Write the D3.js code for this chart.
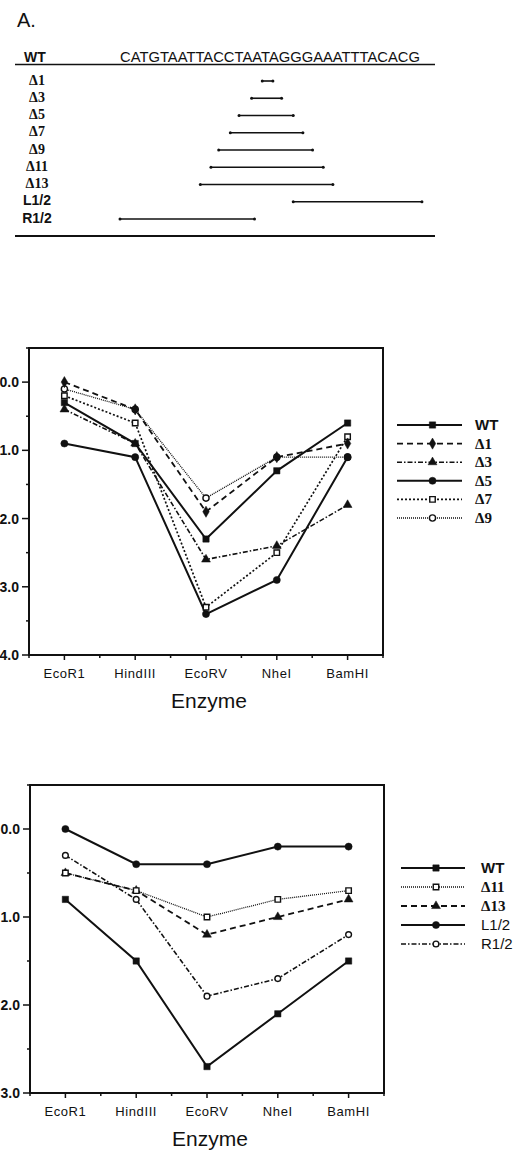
<!DOCTYPE html>
<html>
<head>
<meta charset="utf-8">
<script src="https://cdn.jsdelivr.net/npm/d3@7"></script>
<style>
body { margin: 0; background: #fff; }
text { font-family: "Liberation Sans", Arial, sans-serif; fill: #111; }
.serif { font-family: "Liberation Serif", "Times New Roman", serif; }
</style>
</head>
<body>
<script>
// panel A: deletion map
var seqText = 'CATGTAATTACCTAATAGGGAAATTTACACG';
var mutants = ['Δ1', 'Δ3', 'Δ5', 'Δ7', 'Δ9', 'Δ11', 'Δ13', 'L1/2', 'R1/2'];
var delStart = [14.7, 13.6, 12.3, 11.4, 10.2, 9.4, 8.3, 17.9, 0.0];
var delEnd = [15.8, 16.7, 17.9, 18.9, 19.9, 21.0, 22.0, 31.2, 13.9];

// graphs
var enzymes = ['EcoR1', 'HindIII', 'EcoRV', 'NheI', 'BamHI'];
var yTicks1 = [0, 1, 2, 3, 4];
var yTicks2 = [0, 1, 2, 3];

var names1 = ['WT', 'Δ1', 'Δ3', 'Δ5', 'Δ7', 'Δ9'];
var wt1 = [0.3, 0.9, 2.3, 1.3, 0.6];
var d1 = [0.0, 0.4, 1.9, 1.1, 0.9];
var d3v = [0.4, 0.9, 2.6, 2.4, 1.8];
var d5 = [0.9, 1.1, 3.4, 2.9, 1.1];
var d7 = [0.2, 0.6, 3.3, 2.5, 0.8];
var d9 = [0.1, 0.4, 1.7, 1.1, 1.1];

var names2 = ['WT', 'Δ11', 'Δ13', 'L1/2', 'R1/2'];
var wt2 = [0.8, 1.5, 2.7, 2.1, 1.5];
var d11 = [0.5, 0.7, 1.0, 0.8, 0.7];
var d13 = [0.5, 0.7, 1.2, 1.0, 0.8];
var l12 = [0.0, 0.4, 0.4, 0.2, 0.2];
var r12 = [0.3, 0.8, 1.9, 1.7, 1.2];

// line styles
var SOLID = { dash: null, width: 2 };
var DASH = { dash: '6,4', width: 1.8 };
var DASHDOT = { dash: '5,2,1.5,2', width: 1.6 };
var DOT = { dash: '2,2', width: 1.7 };
var FINE = { dash: '1,1', width: 1.3 };

var styles1 = [
    { line: SOLID, sym: d3.symbolSquare, size: 40, open: false },
    { line: DASH, sym: d3.symbolDiamond, size: 36, open: false },
    { line: DASHDOT, sym: d3.symbolTriangle, size: 34, open: false },
    { line: SOLID, sym: d3.symbolCircle, size: 40, open: false },
    { line: DOT, sym: d3.symbolSquare, size: 30, open: true },
    { line: FINE, sym: d3.symbolCircle, size: 30, open: true }
];
var styles2 = [
    { line: SOLID, sym: d3.symbolSquare, size: 40, open: false },
    { line: FINE, sym: d3.symbolSquare, size: 30, open: true },
    { line: DASH, sym: d3.symbolTriangle, size: 34, open: false },
    { line: SOLID, sym: d3.symbolCircle, size: 40, open: false },
    { line: DASHDOT, sym: d3.symbolCircle, size: 26, open: true }
];

var W = 519, H = 1153;
var svg = d3.select('body').append('svg')
    .attr('width', W)
    .attr('height', H)
    .attr('viewBox', '0 0 ' + W + ' ' + H);

drawMap();
drawChart({ left: 29, right: 383, top: 348, bottom: 655, domain: [-0.5, 4], ticks: yTicks1,
    legendX: [397, 462, 475], legendY: 425, legendStep: 18.6 },
    names1, [wt1, d1, d3v, d5, d7, d9], styles1);
drawChart({ left: 30, right: 384, top: 785, bottom: 1093, domain: [-0.5, 3], ticks: yTicks2,
    legendX: [401, 465, 481], legendY: 868, legendStep: 19 },
    names2, [wt2, d11, d13, l12, r12], styles2);

function labelClass(name) {
    return name.charAt(0) === 'Δ' ? 'serif' : null;
}

function drawMap() {
    var g = svg.append('g');
    var x = d3.scaleLinear().domain([0, seqText.length]).range([120, 420]);
    var rowY = d3.scalePoint().domain(mutants).range([80, 218]);

    g.append('text').attr('x', 17).attr('y', 27)
        .style('font-size', '20px').text('A.');

    g.append('text').attr('x', 35).attr('y', 62)
        .attr('text-anchor', 'middle')
        .style('font-size', '14px').style('font-weight', 'bold')
        .text('WT');
    g.append('text').attr('x', x(0)).attr('y', 62)
        .attr('textLength', x(seqText.length) - x(0))
        .attr('lengthAdjust', 'spacingAndGlyphs')
        .style('font-size', '15px')
        .text(seqText);

    g.append('line').attr('x1', 15).attr('x2', 435).attr('y1', 64.5).attr('y2', 64.5)
        .attr('stroke', '#111').attr('stroke-width', 1.5);
    g.append('line').attr('x1', 15).attr('x2', 435).attr('y1', 236).attr('y2', 236)
        .attr('stroke', '#111').attr('stroke-width', 1.8);

    var rows = g.selectAll('.row')
        .data(mutants)
        .enter()
        .append('g')
        .attr('class', 'row');

    rows.append('text')
        .attr('x', 37)
        .attr('y', function (d) { return rowY(d) + 4.5; })
        .attr('text-anchor', 'middle')
        .attr('class', labelClass)
        .style('font-size', '14px')
        .style('font-weight', 'bold')
        .text(function (d) { return d; });

    rows.append('line')
        .attr('x1', function (d, i) { return x(delStart[i]); })
        .attr('x2', function (d, i) { return x(delEnd[i]); })
        .attr('y1', function (d) { return rowY(d) + 1; })
        .attr('y2', function (d) { return rowY(d) + 1; })
        .attr('stroke', '#111')
        .attr('stroke-width', 1.6);

    rows.selectAll('circle')
        .data(function (d, i) { return [[d, delStart[i]], [d, delEnd[i]]]; })
        .enter()
        .append('circle')
        .attr('cx', function (p) { return x(p[1]); })
        .attr('cy', function (p) { return rowY(p[0]) + 1; })
        .attr('r', 1.5)
        .attr('fill', '#111');
}

function drawChart(cfg, names, series, styles) {
    var g = svg.append('g');
    var x = d3.scalePoint().domain(enzymes).range([cfg.left, cfg.right]).padding(0.5);
    var y = d3.scaleLinear().domain(cfg.domain).range([cfg.top, cfg.bottom]);
    var step = x.step();

    // frame
    g.append('rect')
        .attr('x', cfg.left).attr('y', cfg.top)
        .attr('width', cfg.right - cfg.left)
        .attr('height', cfg.bottom - cfg.top)
        .attr('fill', 'none')
        .attr('stroke', '#111')
        .attr('stroke-width', 2);

    // y ticks
    var half = d3.range(cfg.domain[0], cfg.domain[1] + 0.01, 0.5);
    g.selectAll('.ytick')
        .data(half)
        .enter()
        .append('line')
        .attr('x1', function (d) { return cfg.left - (d % 1 === 0 ? 7 : 3); })
        .attr('x2', cfg.left)
        .attr('y1', function (d) { return y(d); })
        .attr('y2', function (d) { return y(d); })
        .attr('stroke', '#111')
        .attr('stroke-width', 1.5);

    g.selectAll('.ylab')
        .data(cfg.ticks)
        .enter()
        .append('text')
        .attr('x', cfg.left - 10)
        .attr('y', function (d) { return y(d) + 5; })
        .attr('text-anchor', 'end')
        .style('font-size', '14px')
        .style('font-weight', 'bold')
        .text(function (d) { return d3.format('.1f')(d); });

    // x ticks: majors at enzymes, minors in between
    var minors = d3.range(0, enzymes.length + 1).map(function (i) { return cfg.left + i * step; });
    g.selectAll('.xminor')
        .data(minors)
        .enter()
        .append('line')
        .attr('x1', function (d) { return d; })
        .attr('x2', function (d) { return d; })
        .attr('y1', cfg.bottom)
        .attr('y2', cfg.bottom + 3)
        .attr('stroke', '#111')
        .attr('stroke-width', 1.5);

    g.selectAll('.xmajor')
        .data(enzymes)
        .enter()
        .append('line')
        .attr('x1', function (d) { return x(d); })
        .attr('x2', function (d) { return x(d); })
        .attr('y1', cfg.bottom)
        .attr('y2', cfg.bottom + 5)
        .attr('stroke', '#111')
        .attr('stroke-width', 1.5);

    g.selectAll('.xlab')
        .data(enzymes)
        .enter()
        .append('text')
        .attr('x', function (d) { return x(d); })
        .attr('y', cfg.bottom + 23)
        .attr('text-anchor', 'middle')
        .style('font-size', '13px')
        .style('letter-spacing', '0.6px')
        .text(function (d) { return d; });

    g.append('text')
        .attr('x', x('EcoRV') + 3)
        .attr('y', cfg.bottom + 53)
        .attr('text-anchor', 'middle')
        .style('font-size', '21px')
        .text('Enzyme');

    var line = d3.line()
        .x(function (d, i) { return x(enzymes[i]); })
        .y(function (d) { return y(d); });

    // draw back to front so the first series sits on top
    var order = d3.range(series.length).reverse();
    order.forEach(function (k) {
        var st = styles[k];
        g.append('path')
            .attr('d', line(series[k]))
            .attr('fill', 'none')
            .attr('stroke', '#111')
            .attr('stroke-width', st.line.width)
            .attr('stroke-dasharray', st.line.dash);
    });
    order.forEach(function (k) {
        var st = styles[k];
        g.selectAll(null)
            .data(series[k])
            .enter()
            .append('path')
            .attr('d', d3.symbol().type(st.sym).size(st.size))
            .attr('transform', function (d, i) {
                return 'translate(' + x(enzymes[i]) + ',' + y(d) + ')';
            })
            .attr('fill', st.open ? '#fff' : '#111')
            .attr('stroke', '#111')
            .attr('stroke-width', st.open ? 1.4 : 0.5);
    });

    // legend
    var lx = cfg.legendX;
    var items = g.selectAll('.legend')
        .data(names)
        .enter()
        .append('g')
        .attr('transform', function (d, i) {
            return 'translate(0,' + (cfg.legendY + i * cfg.legendStep) + ')';
        });

    items.append('line')
        .attr('x1', lx[0]).attr('x2', lx[1])
        .attr('stroke', '#111')
        .attr('stroke-width', function (d, i) { return styles[i].line.width; })
        .attr('stroke-dasharray', function (d, i) { return styles[i].line.dash; });

    items.append('path')
        .attr('d', function (d, i) { return d3.symbol().type(styles[i].sym).size(styles[i].size)(); })
        .attr('transform', 'translate(' + ((lx[0] + lx[1]) / 2 + 3) + ',0)')
        .attr('fill', function (d, i) { return styles[i].open ? '#fff' : '#111'; })
        .attr('stroke', '#111')
        .attr('stroke-width', function (d, i) { return styles[i].open ? 1.4 : 0.5; });

    items.append('text')
        .attr('x', lx[2])
        .attr('y', 5)
        .attr('class', labelClass)
        .style('font-size', '15px')
        .style('font-weight', function (d) { return d === 'WT' || labelClass(d) ? 'bold' : 'normal'; })
        .text(function (d) { return d; });
}
</script>
</body>
</html>
